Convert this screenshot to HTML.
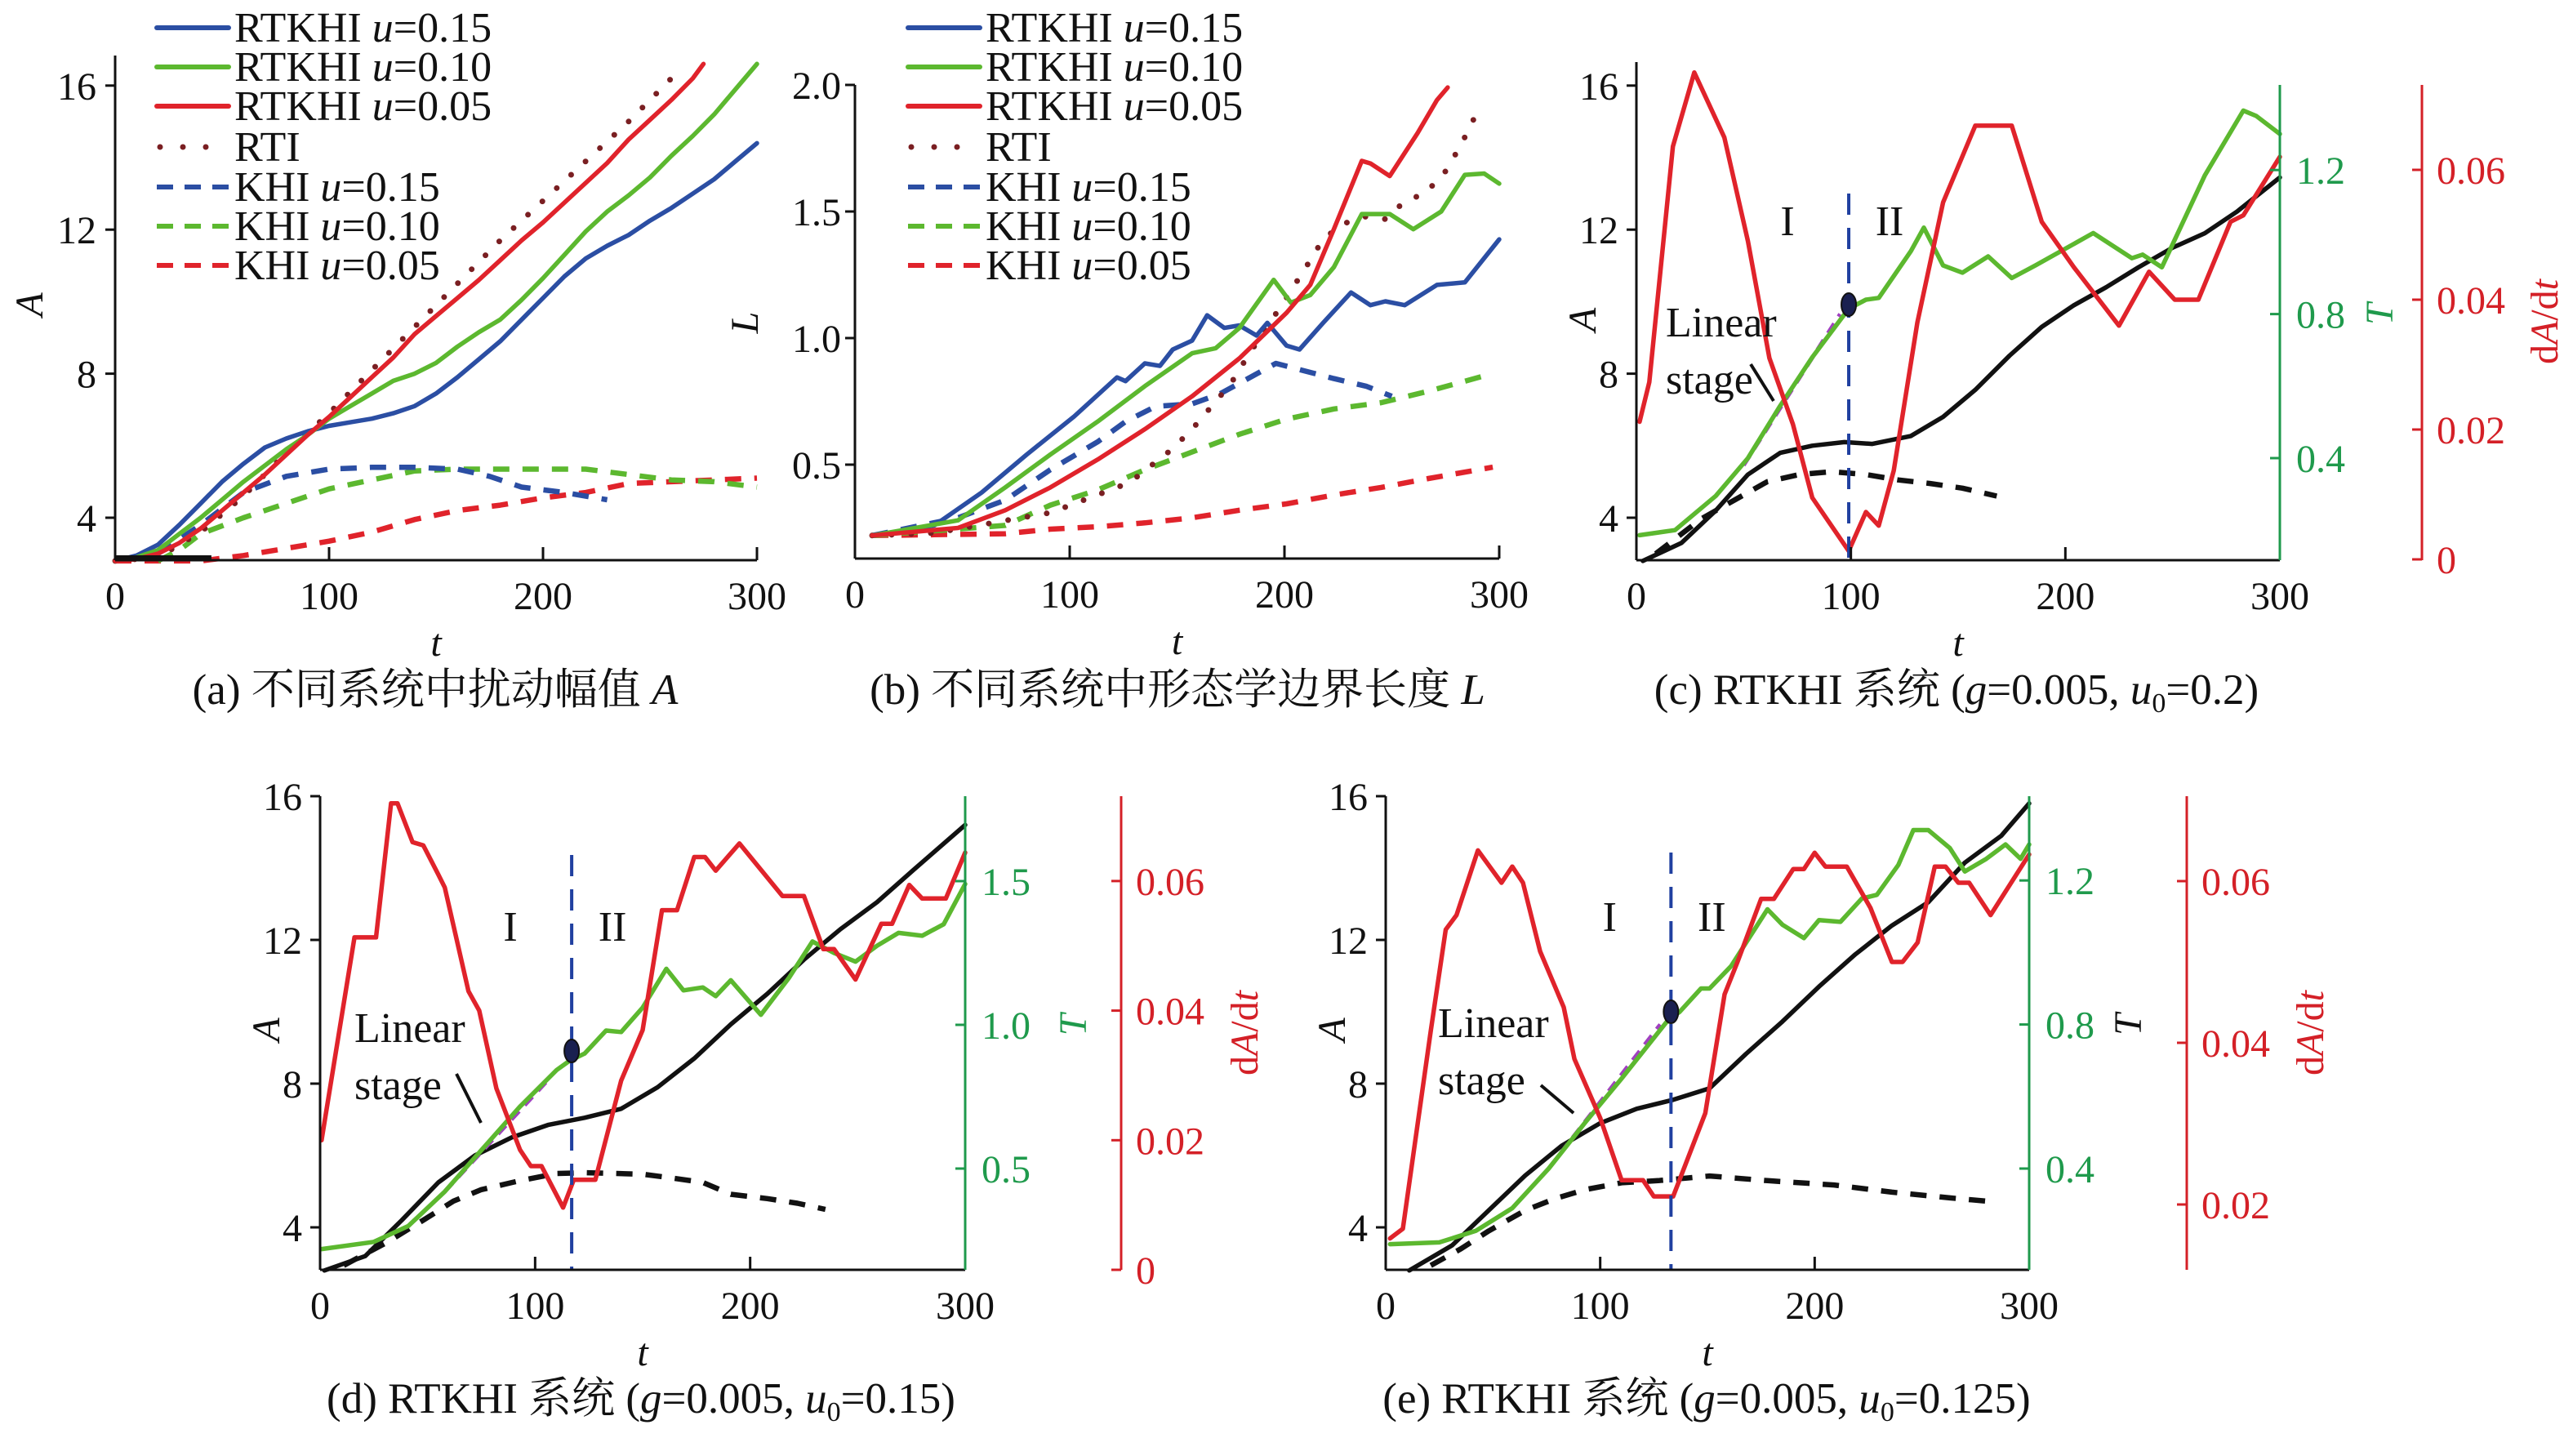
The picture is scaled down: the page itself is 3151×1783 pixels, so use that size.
<!DOCTYPE html>
<html><head><meta charset="utf-8">
<style>
html,body{margin:0;padding:0;background:#fff;}
svg{display:block;}
svg text{font-family:"Liberation Serif","Noto Serif CJK SC",serif !important;}
</style></head>
<body>
<svg id="chart" width="3151" height="1783" viewBox="0 0 3151 1783" xmlns="http://www.w3.org/2000/svg" font-family="Liberation Serif, Noto Serif CJK SC, serif">
</svg>
<script>
// ---------- Panel (a): amplitude A ----------
const aT = [0,10,20,30,40,50,60,70,80,90,100,110,120,130,140,150,160,170,180,190,200,210,220,230,240,250,260,270,280,290,300];
const aBlue = [2.8,2.95,3.25,3.8,4.4,5.0,5.5,5.95,6.2,6.4,6.55,6.65,6.75,6.9,7.1,7.45,7.9,8.4,8.9,9.5,10.1,10.7,11.2,11.55,11.85,12.25,12.6,13.0,13.4,13.9,14.4];
const aGreen = [2.8,2.9,3.1,3.55,4.0,4.5,5.0,5.45,5.9,6.3,6.75,7.1,7.45,7.8,8.0,8.3,8.75,9.15,9.5,10.05,10.65,11.3,11.95,12.5,12.95,13.45,14.05,14.6,15.2,15.9,16.6];
const aRedT = [0,10,20,30,40,50,60,70,80,90,100,110,120,130,140,150,160,170,180,190,200,210,220,230,240,250,260,270,275];
const aRed = [2.8,2.85,3.0,3.3,3.7,4.2,4.7,5.2,5.75,6.3,6.8,7.35,7.9,8.45,9.1,9.6,10.1,10.6,11.15,11.7,12.2,12.75,13.3,13.85,14.5,15.05,15.6,16.2,16.6];
const aRtiT = [0,20,40,60,80,100,120,140,160,180,200,220,240,260];
const aRti = [2.8,2.9,3.6,4.6,5.8,6.9,8.1,9.3,10.5,11.7,12.8,13.9,15.0,16.2];
const aKhi15T = [20,40,60,80,100,120,140,160,175,190,210,230];
const aKhi15 = [3.0,3.8,4.7,5.15,5.35,5.4,5.4,5.35,5.15,4.85,4.7,4.5];
const aKhi10T = [20,30,40,60,80,100,120,140,160,180,200,220,240,260,280,300];
const aKhi10 = [2.8,3.1,3.55,4.0,4.4,4.8,5.05,5.3,5.35,5.35,5.35,5.35,5.2,5.05,5.0,4.85];
const aKhi05T = [0,40,60,80,100,120,140,160,180,200,220,240,260,280,300];
const aKhi05 = [2.8,2.8,2.95,3.15,3.35,3.6,3.95,4.2,4.35,4.55,4.7,4.95,5.0,5.05,5.1];
const aYTicks = [4,8,12,16];
const xTicks = [0,100,200,300];

// ---------- Panel (b): boundary length L ----------
const bBlueT = [8,37,59,80,102,122,126,135,142,148,157,164,172,179,187,192,201,207,218,231,240,247,256,271,284,300];
const bBlue = [0.22,0.26,0.39,0.54,0.69,0.845,0.83,0.9,0.89,0.955,0.99,1.09,1.04,1.05,1.01,1.06,0.97,0.955,1.06,1.18,1.13,1.145,1.13,1.21,1.22,1.39];
const bGreenT = [8,48,70,91,113,135,157,168,179,195,203,212,223,236,249,260,273,284,293,300];
const bGreen = [0.22,0.28,0.41,0.54,0.67,0.81,0.94,0.96,1.04,1.23,1.14,1.17,1.28,1.49,1.49,1.43,1.5,1.645,1.65,1.61];
const bRedT = [8,48,70,91,113,135,157,179,201,212,223,236,240,249,262,271,276];
const bRed = [0.22,0.25,0.32,0.41,0.52,0.64,0.77,0.92,1.1,1.21,1.43,1.7,1.69,1.64,1.81,1.94,1.99];
const bRtiT = [8,37,91,119,128,146,156,165,175,183,201,210,218,227,237,247,256,265,274,282,289];
const bRti = [0.22,0.23,0.31,0.4,0.43,0.55,0.63,0.72,0.82,0.93,1.16,1.28,1.39,1.45,1.48,1.47,1.54,1.57,1.645,1.76,1.88];
const bKhi15T = [8,48,70,91,113,126,140,157,170,183,196,223,238,250];
const bKhi15 = [0.22,0.29,0.36,0.48,0.59,0.67,0.73,0.74,0.78,0.84,0.9,0.84,0.81,0.77];
const bKhi10T = [8,70,91,113,135,157,179,201,223,245,267,297];
const bKhi10 = [0.22,0.26,0.34,0.4,0.48,0.55,0.62,0.68,0.72,0.745,0.79,0.86];
const bKhi05T = [8,70,91,113,135,157,179,201,223,245,267,297];
const bKhi05 = [0.22,0.227,0.245,0.255,0.27,0.29,0.32,0.345,0.38,0.41,0.445,0.49];
const bYTicks = [0.5,1.0,1.5,2.0];
const bYLabels = ["0.5","1.0","1.5","2.0"];

// ---------- Panel (c): u0=0.2 ----------
const cAT = [3,21,37,52,67,82,97,110,128,143,158,174,189,204,219,234,250,265,280,300];
const cA = [2.8,3.3,4.2,5.2,5.8,6.0,6.1,6.05,6.27,6.8,7.55,8.5,9.3,9.9,10.4,10.95,11.5,11.9,12.5,13.45];
const cKT = [9,30,46,61,76,91,107,122,137,152,168];
const cK = [3.0,3.96,4.5,5.0,5.2,5.28,5.2,5.05,4.95,4.82,4.6];
const cTT = [1.5,18,37,52,67,82,99,107,113,128,134,143,152,164,175,186,213,231,236,245,265,283,289,300];
const cTv = [0.186,0.2,0.295,0.4,0.545,0.68,0.815,0.84,0.845,0.975,1.04,0.935,0.915,0.96,0.9,0.935,1.025,0.955,0.965,0.93,1.185,1.365,1.35,1.3];
const cDT = [1.5,6,17,27,41,52,62,73,82,99,107,113,120,131,143,158,175,189,204,225,239,251,262,277,283,300];
const cD = [0.0212,0.0273,0.0636,0.075,0.065,0.049,0.031,0.0208,0.0095,0.0013,0.0073,0.0052,0.0137,0.0365,0.055,0.0668,0.0668,0.052,0.045,0.036,0.0443,0.04,0.04,0.052,0.053,0.062];
const cAYTicks = [4,8,12,16];
const cTTicks = [0.4,0.8,1.2];
const cDTicks = [0,0.02,0.04,0.06];
const cStage = [99];

// ---------- Panel (d): u0=0.15 ----------
const dAT = [2,21,38,55,72,89,106,123,140,157,174,191,208,225,242,259,276,300];
const dA = [2.8,3.2,4.2,5.25,6.0,6.5,6.85,7.05,7.3,7.9,8.7,9.65,10.5,11.45,12.3,13.05,13.95,15.2];
const dKT = [11,31,48,62,75,93,110,123,137,150,164,178,191,208,222,235];
const dK = [2.94,3.58,4.2,4.73,5.05,5.3,5.5,5.52,5.5,5.48,5.37,5.25,4.92,4.8,4.67,4.5];
const dTT = [0.7,25,41,58,75,93,110,116,123,133,140,150,161,169,178,184,191,205,218,229,239,249,259,269,280,290,300];
const dTv = [0.22,0.245,0.3,0.42,0.564,0.716,0.843,0.875,0.9,0.98,0.975,1.06,1.195,1.12,1.13,1.1,1.155,1.035,1.163,1.29,1.25,1.22,1.275,1.32,1.31,1.35,1.49];
const dDT = [0.7,16,26,33,36,43,48,55,58,69,74,82,93,98,103,113,118,128,140,150,159,166,174,179,184,195,215,225,234,239,249,261,266,274,280,291,300];
const dD = [0.02,0.0513,0.0513,0.072,0.072,0.066,0.0655,0.061,0.059,0.043,0.04,0.028,0.0185,0.016,0.016,0.0096,0.0139,0.0139,0.0292,0.037,0.0555,0.0555,0.0637,0.0637,0.0616,0.0658,0.0577,0.0577,0.0495,0.0495,0.0448,0.0534,0.0534,0.0594,0.0573,0.0573,0.0644];
const dTTicks = [0.5,1.0,1.5];
const dStage = [117];

// ---------- Panel (e): u0=0.125 ----------
const eAT = [11,31,48,65,82,100,117,134,151,168,185,202,219,236,253,270,287,300];
const eA = [2.8,3.5,4.47,5.44,6.27,6.9,7.3,7.55,7.87,8.83,9.73,10.7,11.6,12.4,13.05,14.15,14.9,15.8];
const eKT = [21,35,48,65,79,93,110,127,151,178,209,236,263,280];
const eK = [2.94,3.4,3.9,4.47,4.8,5.05,5.24,5.3,5.43,5.3,5.18,4.98,4.82,4.73];
const eTT = [2,25,42,59,76,93,110,132,137,147,151,161,178,185,195,202,212,222,229,239,246,253,263,270,280,289,296,300];
const eTv = [0.19,0.195,0.227,0.29,0.4,0.528,0.65,0.815,0.835,0.9,0.9,0.962,1.12,1.077,1.04,1.09,1.085,1.15,1.16,1.243,1.34,1.34,1.29,1.225,1.26,1.3,1.26,1.3];
const eDT = [2,8,21,28,33,43,54,59,64,72,83,88,100,110,120,125,134,149,158,164,175,181,190,195,200,205,215,226,236,241,248,256,261,267,272,282,300];
const eD = [0.0158,0.017,0.0415,0.054,0.0558,0.0638,0.0598,0.0618,0.0598,0.0513,0.0444,0.038,0.0307,0.023,0.023,0.021,0.021,0.0313,0.046,0.05,0.0578,0.0578,0.0615,0.0615,0.0635,0.0618,0.0618,0.0567,0.05,0.05,0.0524,0.0618,0.0618,0.0598,0.0598,0.0558,0.0633];
const eTTicks = [0.4,0.8,1.2];
const eDTicks = [0.02,0.04,0.06];
const eStage = [133];

// ---------- drawing ----------
const NS = "http://www.w3.org/2000/svg";
const FF = "Liberation Serif, Noto Serif CJK SC, serif";
const svg = document.getElementById('chart');
const C = {blue:"#2b4ea3", green:"#5cb82f", red:"#e0232b", black:"#111111", rti:"#7a1f22", tg:"#1f9a4c", dr:"#d42027", purple:"#a040c0"};

function el(tag, attrs, parent){
  const e = document.createElementNS(NS, tag);
  for (const k in attrs) e.setAttribute(k, attrs[k]);
  (parent||svg).appendChild(e);
  return e;
}
function txt(x,y,s,opts,parent){
  const t = el('text', Object.assign({x:x,y:y,'font-size':48,fill:'#111','font-family':FF}, opts||{}), parent);
  t.textContent = s;
  return t;
}
function series(g, ts, vs, xs, ys, color, kind, name){
  const pts = ts.map((t,i)=> xs(t).toFixed(1)+','+ys(vs[i]).toFixed(1)).join(' ');
  const attrs = {points:pts, fill:'none', stroke:color, 'stroke-width':5.5, 'stroke-linejoin':'round', 'stroke-linecap':'round'};
  if (kind==='dash') { attrs['stroke-dasharray']='20 16'; attrs['stroke-linecap']='butt'; attrs['stroke-width']=6.5; }
  if (kind==='dot') { attrs['stroke-dasharray']='0 24'; attrs['stroke-width']=7; }
  const p = el('polyline', attrs, g);
  
  
  return p;
}
function group(name){
  const g = el('g', {});
  
  
  return g;
}
function leftAxis(g, x, yTop, yBot, ticks, labels, ys, color, labelX, anchor){
  const ax = el('line',{x1:x,y1:yTop,x2:x,y2:yBot,stroke:color,'stroke-width':3}, g);
  
  
  ticks.forEach((v,i)=>{
    const y = ys(v);
    el('line',{x1:x-12,y1:y,x2:x,y2:y,stroke:color,'stroke-width':3}, g);
    const t = txt(labelX, y+17, labels[i], {fill:color,'text-anchor':anchor}, g);
    
    
  });
}
function xAxis(g, x0, x1, y, xs){
  const ax = el('line',{x1:x0,y1:y,x2:x1,y2:y,stroke:'#111','stroke-width':3}, g);
  
  
  xTicks.forEach(v=>{
    const x = xs(v);
    if (v>0) el('line',{x1:x,y1:y,x2:x,y2:y-16,stroke:'#111','stroke-width':3}, g);
    const t = txt(x, y+60, String(v), {'text-anchor':'middle'}, g);
    
    
  });
  const tl = txt((x0+x1)/2, y+117, 't', {'font-style':'italic','text-anchor':'middle'}, g);
  
  
}
function rotLabel(g, x, y, parts, color, name){
  const t = el('text',{x:0,y:0,'font-size':48,fill:color,'font-family':FF,'text-anchor':'middle',transform:`translate(${x},${y}) rotate(-90)`}, g);
  parts.forEach(p=>{ const s = el('tspan',{'font-style':p[1]?'italic':'normal'}, t); s.textContent=p[0]; });
  
  
}
function legend(g, x, labels){
  const rows = [34,82,130,180,229,277,325];
  const colors = [C.blue,C.green,C.red,C.rti,C.blue,C.green,C.red];
  const kinds = ['solid','solid','solid','dot','dash','dash','dash'];
  labels.forEach((l,i)=>{
    const y = rows[i];
    const a = {x1:x,y1:y,x2:x+88,y2:y,stroke:colors[i],'stroke-width':6,'stroke-linecap':'round'};
    if (kinds[i]==='dash'){a['stroke-dasharray']='20 14';a['stroke-linecap']='butt';}
    if (kinds[i]==='dot'){a['stroke-dasharray']='0 28';a['stroke-width']=7;a.x1=x+4;}
    const ln = el('line', a, g);
    
    
    const t = el('text',{x:x+95,y:y+17,'font-size':52,fill:'#111','font-family':FF}, g);
    const s1 = el('tspan',{},t); s1.textContent = l[0];
    if (l[1]) { const s2 = el('tspan',{'font-style':'italic'},t); s2.textContent=' u'; const s3=el('tspan',{},t); s3.textContent='='+l[1]; }
    
    
  });
}
const legLabels = [["RTKHI","0.15"],["RTKHI","0.10"],["RTKHI","0.05"],["RTI",null],["KHI","0.15"],["KHI","0.10"],["KHI","0.05"]];

function caption(x,y,html,name){
  const t = el('text',{x:x,y:y,'font-size':53,fill:'#111','text-anchor':'middle','font-family':FF});
  t.innerHTML = html;
  
  
}

// ===== Panel a =====
(function(){
  const g = group('panel-a');
  const xs = t=>141+t*786/300, ys = v=>634-(v-4)*44.1;
  series(g,aKhi05T,aKhi05,xs,ys,C.red,'dash','khi-005-line');
  series(g,aKhi10T,aKhi10,xs,ys,C.green,'dash','khi-010-line');
  series(g,aKhi15T,aKhi15,xs,ys,C.blue,'dash','khi-015-line');
  series(g,aRtiT,aRti,xs,ys,C.rti,'dot','rti-line');
  series(g,aT,aBlue,xs,ys,C.blue,'solid','rtkhi-015-line');
  series(g,aT,aGreen,xs,ys,C.green,'solid','rtkhi-010-line');
  series(g,aRedT,aRed,xs,ys,C.red,'solid','rtkhi-005-line');
  el('line',{x1:141,y1:683,x2:xs(45),y2:683,stroke:'#111','stroke-width':6},g);
  leftAxis(g,141,68,686,aYTicks,aYTicks.map(String),ys,'#111',118,'end');
  xAxis(g,141,927,686,xs);
  rotLabel(g,52,373,[['A',true]],'#111','y-axis-title');
  legend(g,192,legLabels);
})();
// ===== Panel b =====
(function(){
  const g = group('panel-b');
  const xs = t=>1047+t*789/300, ys = v=>569-(v-0.5)*310;
  series(g,bKhi05T,bKhi05,xs,ys,C.red,'dash','khi-005-line');
  series(g,bKhi10T,bKhi10,xs,ys,C.green,'dash','khi-010-line');
  series(g,bKhi15T,bKhi15,xs,ys,C.blue,'dash','khi-015-line');
  series(g,bRtiT,bRti,xs,ys,C.rti,'dot','rti-line');
  series(g,bBlueT,bBlue,xs,ys,C.blue,'solid','rtkhi-015-line');
  series(g,bGreenT,bGreen,xs,ys,C.green,'solid','rtkhi-010-line');
  series(g,bRedT,bRed,xs,ys,C.red,'solid','rtkhi-005-line');
  leftAxis(g,1047,104,684,bYTicks,bYLabels,ys,'#111',1030,'end');
  xAxis(g,1047,1836,684,xs);
  rotLabel(g,928,395,[['L',true]],'#111','y-axis-title');
  legend(g,1112,legLabels);
})();

function stagePanel(name, P){
  const g = group(name);
  series(g,P.KT,P.K,P.xs,P.ya,C.black,'dash','khi-amplitude-line');
  series(g,P.AT,P.A,P.xs,P.ya,C.black,'solid','amplitude-line');
  const lf = el('line',{x1:P.xs(P.lin[0]),y1:P.yt(P.lin[1]),x2:P.xs(P.lin[2]),y2:P.yt(P.lin[3]),stroke:C.purple,'stroke-width':5,'stroke-dasharray':'14 10'},g);
   
  series(g,P.TT,P.Tv,P.xs,P.yt,C.green,'solid','temperature-line');
  series(g,P.DT,P.D,P.xs,P.yd,C.red,'solid','growth-rate-line');
  const sx = P.xs(P.stage[0]);
  const vl = el('line',{x1:sx,y1:P.vtop,x2:sx,y2:P.ybot,stroke:'#2040a0','stroke-width':4,'stroke-dasharray':'26 16'},g);
   
  const dot = el('ellipse',{cx:sx,cy:P.doty,rx:9,ry:14,fill:'#1a2050',stroke:'#111','stroke-width':2},g);
   
  const t1 = txt(sx-75,P.iy,'I',{'font-size':52,'text-anchor':'middle'},g);
   
  const t2 = txt(sx+50,P.iy,'II',{'font-size':52,'text-anchor':'middle'},g);
   
  const l1 = txt(P.linX,P.linY,'Linear',{'font-size':52},g);
   
  const l2 = txt(P.linX,P.linY+70,'stage',{'font-size':52},g);
   
  const ar = el('line',{x1:P.arrow[0],y1:P.arrow[1],x2:P.arrow[2],y2:P.arrow[3],stroke:'#111','stroke-width':4},g);
   
  leftAxis(g,P.x0,P.atop,P.ybot,cAYTicks,cAYTicks.map(String),P.ya,'#111',P.x0-22,'end');
  xAxis(g,P.x0,P.x1,P.ybot,P.xs);
  leftAxis(g,P.x1,P.ttop,P.ybot,P.tTicks,P.tTicks.map(v=>v.toFixed(1)),P.yt,C.tg,P.x1+20,'start');
  leftAxis(g,P.rx,P.ttop,P.ybot,P.dTicks,P.dTicks.map(v=>v===0?'0':v.toFixed(2)),P.yd,C.dr,P.rx+18,'start');
  rotLabel(g,P.x0-50,P.ya(9.5),[['A',true]],'#111','y-axis-title');
  rotLabel(g,P.tlx,P.yt(P.tTicks[1]),[['T',true]],P.tcol,'temperature-axis-title');
  rotLabel(g,P.dlx,P.ttop+290,[['d',false],['A',true],['/d',false],['t',true]],C.dr,'growth-rate-axis-title');
}

stagePanel('panel-c',{
  AT:cAT,A:cA,KT:cKT,K:cK,TT:cTT,Tv:cTv,DT:cDT,D:cD,stage:cStage,
  xs:t=>2004+t*788/300, ya:v=>634-(v-4)*44.1, yt:v=>561-(v-0.4)*441, yd:v=>685-v*7950,
  x0:2004,x1:2792,rx:2966,ybot:686,atop:76,ttop:104,
  tTicks:cTTicks,dTicks:cDTicks,lin:[50,0.38,95,0.8],
  vtop:237,doty:373,iy:288,linX:2040,linY:412,arrow:[2144,446,2172,491],
  tlx:2930,dlx:3132,tcol:C.tg
});
stagePanel('panel-d',{
  AT:dAT,A:dA,KT:dKT,K:dK,TT:dTT,Tv:dTv,DT:dDT,D:dD,stage:dStage,
  xs:t=>392+t*790/300, ya:v=>1503-(v-4)*44, yt:v=>1431-(v-0.5)*352, yd:v=>1555-v*7935,
  x0:392,x1:1182,rx:1373,ybot:1555,atop:975,ttop:975,
  tTicks:dTTicks,dTicks:cDTicks,lin:[58,0.42,105,0.8],
  vtop:1047,doty:1287,iy:1152,linX:434,linY:1276,arrow:[559,1315,589,1375],
  tlx:1330,dlx:1540,tcol:C.tg
});
stagePanel('panel-e',{
  AT:eAT,A:eA,KT:eKT,K:eK,TT:eTT,Tv:eTv,DT:eDT,D:eD,stage:eStage,
  xs:t=>1697+t*788/300, ya:v=>1503-(v-4)*44, yt:v=>1431-(v-0.4)*441, yd:v=>1475-(v-0.02)*9900,
  x0:1697,x1:2485,rx:2678,ybot:1555,atop:975,ttop:975,
  tTicks:eTTicks,dTicks:eDTicks,lin:[76,0.4,128,0.8],
  vtop:1044,doty:1239,iy:1140,linX:1761,linY:1270,arrow:[1887,1329,1927,1363],
  tlx:2622,dlx:2845,tcol:'#111'
});

caption(533,862,'(a) 不同系统中扰动幅值 <tspan font-style="italic">A</tspan>','caption-a');
caption(1442,862,'(b) 不同系统中形态学边界长度 <tspan font-style="italic">L</tspan>','caption-b');
caption(2396,862,'(c) RTKHI 系统 (<tspan font-style="italic">g</tspan>=0.005, <tspan font-style="italic">u</tspan><tspan font-size="34" dy="10">0</tspan><tspan dy="-10">=0.2)</tspan>','caption-c');
caption(785,1730,'(d) RTKHI 系统 (<tspan font-style="italic">g</tspan>=0.005, <tspan font-style="italic">u</tspan><tspan font-size="34" dy="10">0</tspan><tspan dy="-10">=0.15)</tspan>','caption-d');
caption(2090,1730,'(e) RTKHI 系统 (<tspan font-style="italic">g</tspan>=0.005, <tspan font-style="italic">u</tspan><tspan font-size="34" dy="10">0</tspan><tspan dy="-10">=0.125)</tspan>','caption-e');
</script>
</body></html>
